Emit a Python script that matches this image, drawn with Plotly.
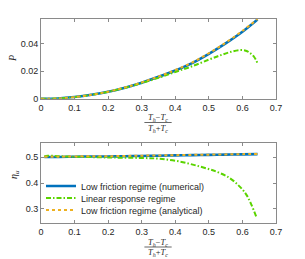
import plotly.graph_objects as go
from plotly.subplots import make_subplots

# ---- data ----
x_P = [0, 0.05, 0.1, 0.15, 0.2, 0.25, 0.3, 0.35, 0.4, 0.45, 0.5, 0.55, 0.6, 0.645]
P_num = [0, 0.0003, 0.0013, 0.0029, 0.0051, 0.0081, 0.0117, 0.0159, 0.0205, 0.0258, 0.0325, 0.0400, 0.0484, 0.0572]
P_an = [0, 0.0003, 0.0013, 0.0029, 0.0052, 0.0082, 0.0119, 0.0161, 0.0208, 0.0262, 0.0329, 0.0405, 0.0490, 0.0575]
x_P_lin = [0, 0.05, 0.1, 0.15, 0.2, 0.25, 0.3, 0.35, 0.4, 0.45, 0.5, 0.533, 0.5625, 0.592, 0.61, 0.622, 0.635, 0.645]
P_lin = [0, 0.0003, 0.0013, 0.0029, 0.0051, 0.0080, 0.0114, 0.0152, 0.0194, 0.0235, 0.0283, 0.0313, 0.0337, 0.0352, 0.0347, 0.0332, 0.0302, 0.0257]

x_eta = [0.01, 0.05, 0.1, 0.15, 0.2, 0.25, 0.3, 0.35, 0.4, 0.45, 0.5, 0.55, 0.6, 0.645]
eta_num = [0.501, 0.501, 0.502, 0.503, 0.503, 0.504, 0.505, 0.506, 0.507, 0.508, 0.509, 0.510, 0.511, 0.512]
eta_an = [0.502, 0.502, 0.503, 0.504, 0.504, 0.505, 0.506, 0.507, 0.508, 0.509, 0.510, 0.511, 0.512, 0.513]
x_eta_lin = [0.01, 0.02, 0.05, 0.1, 0.2, 0.3, 0.354, 0.414, 0.473, 0.523, 0.5625, 0.592, 0.612, 0.627, 0.642]
eta_lin = [0.503, 0.506, 0.504, 0.502, 0.499, 0.497, 0.494, 0.483, 0.464, 0.444, 0.419, 0.386, 0.354, 0.315, 0.267]

x_ticks = [0, 0.1, 0.2, 0.3, 0.4, 0.5, 0.6, 0.7]
names = ["Low friction regime (numerical)", "Linear response regime", "Low friction regime (analytical)"]

BLUE = "#0072BD"
GREEN = "#5BD400"
ORANGE = "#EDB120"
GREEN_DASH = "5px,2px,1.5px,2px"

fig = make_subplots(rows=2, cols=1, vertical_spacing=0.0)

# top panel
fig.add_trace(go.Scatter(x=x_P, y=P_num, mode="lines", line=dict(color=BLUE, width=2.6, shape="spline"),
                         showlegend=False), row=1, col=1)
fig.add_trace(go.Scatter(x=x_P_lin, y=P_lin, mode="lines",
                         line=dict(color=GREEN, width=2, dash=GREEN_DASH, shape="spline"),
                         showlegend=False), row=1, col=1)
fig.add_trace(go.Scatter(x=x_P, y=P_an, mode="lines", line=dict(color=ORANGE, width=2, dash="dot", shape="spline"),
                         showlegend=False), row=1, col=1)

# bottom panel
fig.add_trace(go.Scatter(x=x_eta, y=eta_num, mode="lines", line=dict(color=BLUE, width=2.6, shape="spline"),
                         name=names[0], legend="legend"), row=2, col=1)
fig.add_trace(go.Scatter(x=x_eta_lin, y=eta_lin, mode="lines",
                         line=dict(color=GREEN, width=2, dash=GREEN_DASH, shape="spline"),
                         name=names[1], legend="legend2"), row=2, col=1)
fig.add_trace(go.Scatter(x=x_eta, y=eta_an, mode="lines", line=dict(color=ORANGE, width=2, dash="dot", shape="spline"),
                         name=names[2], legend="legend3"), row=2, col=1)

axis_common = dict(showline=True, linecolor="#8a8a8a", linewidth=1, mirror="ticks", ticks="inside",
                   ticklen=3, tickcolor="#8a8a8a", showgrid=False, zeroline=False,
                   tickfont=dict(family="Liberation Sans, Arial", size=9, color="#262626"))

fig.update_xaxes(range=[0, 0.7], tickvals=x_ticks, **axis_common)
fig.update_yaxes(**axis_common)
fig.update_yaxes(range=[0, 0.0576], tickvals=[0, 0.02, 0.04], ticktext=["0", "0.02", "0.04"], row=1, col=1)
fig.update_yaxes(range=[0.245, 0.557], tickvals=[0.3, 0.4, 0.5], row=2, col=1)


# the page body adds an 8px margin; the figure is sized to fill the rest of the window
def py(p):
    # screen pixel row -> paper fraction (plot area spans rows 19..223)
    return 1 - (p - 19) / 204.0


def px(p):
    # screen pixel column -> paper fraction (plot area spans columns 41..276)
    return (p - 41) / 235.0


leg_font = dict(family="Liberation Sans, Arial", size=9, color="#262626")
leg_common = dict(x=0.0, xanchor="left", yanchor="middle", bgcolor="rgba(0,0,0,0)",
                  font=leg_font, itemwidth=30)

fig.update_layout(
    width=297, height=251,
    margin=dict(l=33, r=29, t=11, b=36, pad=0),
    paper_bgcolor="white", plot_bgcolor="white",
    xaxis=dict(domain=[0, 1]), xaxis2=dict(domain=[0, 1]),
    yaxis=dict(domain=[0.6085, 1.0]), yaxis2=dict(domain=[0.0, 0.3945]),
    legend=dict(y=py(186), **leg_common),
    legend2=dict(y=py(198), **leg_common),
    legend3=dict(y=py(210), **leg_common),
)

serif = "Liberation Serif, DejaVu Serif, serif"
frac_font = dict(family=serif, size=8.5, color="#262626")


def add_frac(y_num, y_line, y_den):
    fig.add_annotation(xref="paper", yref="paper", x=0.498, y=y_num, showarrow=False,
                       text="<i>T</i><sub><i>h</i></sub>−<i>T</i><sub><i>c</i></sub>", font=frac_font,
                       xanchor="center", yanchor="middle")
    fig.add_shape(type="line", xref="paper", yref="paper", x0=0.44, x1=0.556, y0=y_line, y1=y_line,
                  line=dict(color="#262626", width=0.7))
    fig.add_annotation(xref="paper", yref="paper", x=0.498, y=y_den, showarrow=False,
                       text="<i>T</i><sub><i>h</i></sub>+<i>T</i><sub><i>c</i></sub>", font=frac_font,
                       xanchor="center", yanchor="middle")


add_frac(py(117.5), py(122.5), py(128.5))
add_frac(py(242.5), py(247), py(253))

fig.add_annotation(xref="paper", yref="paper", x=px(13), y=py(59), showarrow=False, textangle=-90,
                   text="<i>P</i>", font=dict(family=serif, size=10, color="#262626"),
                   xanchor="center", yanchor="middle")
fig.add_annotation(xref="paper", yref="paper", x=px(14), y=py(175), showarrow=False, textangle=-90,
                   text="<i>η</i><sub><i>u</i></sub>", font=dict(family=serif, size=10, color="#262626"),
                   xanchor="center", yanchor="middle")

fig.write_html("out.html")
